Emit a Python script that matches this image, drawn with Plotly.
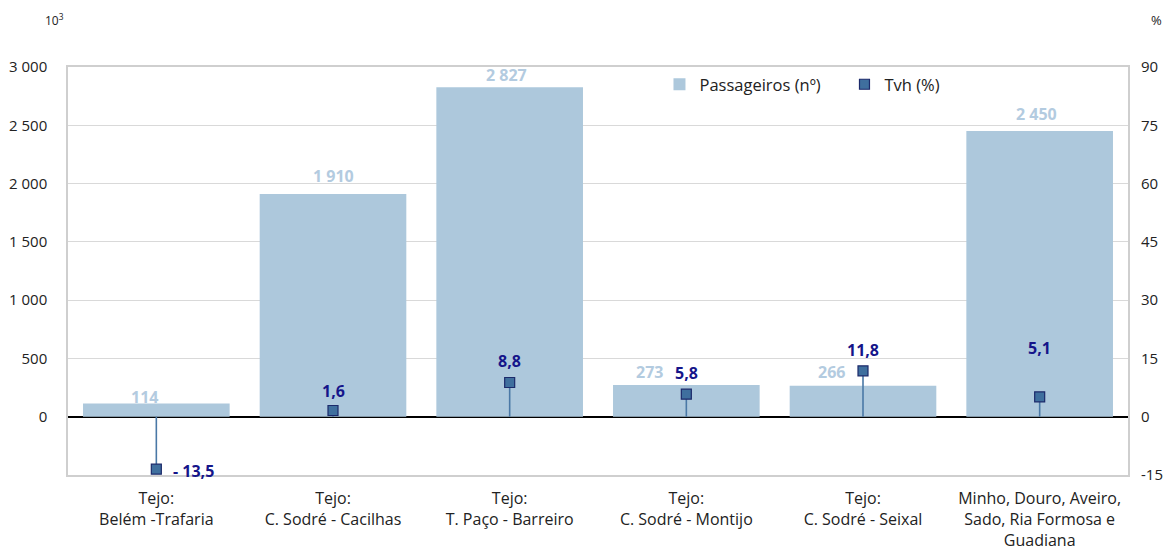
import plotly.graph_objects as go

categories = ["Tejo:<br>Belém -Trafaria", "Tejo:<br>C. Sodré - Cacilhas", "Tejo:<br>T. Paço - Barreiro",
              "Tejo:<br>C. Sodré - Montijo", "Tejo:<br>C. Sodré - Seixal",
              "Minho, Douro, Aveiro,<br>Sado, Ria Formosa e<br>Guadiana"]
passageiros = [114, 1910, 2827, 273, 266, 2450]
tvh = [-13.5, 1.6, 8.8, 5.8, 11.8, 5.1]
left_ticks = [0, 500, 1000, 1500, 2000, 2500, 3000]
right_ticks = [-15, 0, 15, 30, 45, 60, 75, 90]

BAR = "#adc8dc"
BARTXT = "#b3cbe0"
NAVY = "#15158a"
FONT = "Open Sans, sans-serif"


def fmt_int(v):
    return f"{v:,}".replace(",", " ")


def fmt_pct(v):
    s = f"{abs(v):.1f}".replace(".", ",")
    return ("- " + s) if v < 0 else s


fig = go.Figure()
fig.add_trace(go.Bar(x=categories, y=passageiros, name="Passageiros (nº)",
                     marker=dict(color=BAR, line=dict(width=0)), yaxis="y"))
fig.add_trace(go.Scatter(
    x=categories, y=tvh, name="Tvh (%)", mode="markers", yaxis="y2",
    marker=dict(symbol="square", size=10, color="#3f6f9e", line=dict(color="#1c2a6b", width=1.2)),
    error_y=dict(type="data", symmetric=False,
                 array=[(-v if v < 0 else 0) for v in tvh],
                 arrayminus=[(v if v > 0 else 0) for v in tvh],
                 width=0, thickness=1.6, color="#4a78a6"),
))

annotations = []
# bar value labels (label offsets in px: x shift, gap above bar top)
bar_xshift = [-12, 0, -3, -37, -32, -3]
bar_gap = [6, 18, 12, 13, 14, 17]
for c, v, sx, g in zip(categories, passageiros, bar_xshift, bar_gap):
    annotations.append(dict(x=c, y=v, xref="x", yref="y", text=f"<b>{fmt_int(v)}</b>",
                            showarrow=False, yanchor="middle", xshift=sx, yshift=g,
                            font=dict(family=FONT, size=16, color=BARTXT)))
# tvh labels
tvh_gap = [0, 20, 22, 21, 21, 49]
for i, (c, v) in enumerate(zip(categories, tvh)):
    if v < 0:
        annotations.append(dict(x=c, y=v, xref="x", yref="y2", text=f"<b>{fmt_pct(v)}</b>",
                                showarrow=False, xanchor="left", yanchor="middle", xshift=15, yshift=-2,
                                font=dict(family=FONT, size=16, color=NAVY)))
    else:
        annotations.append(dict(x=c, y=v, xref="x", yref="y2", text=f"<b>{fmt_pct(v)}</b>",
                                showarrow=False, yanchor="middle", yshift=tvh_gap[i],
                                font=dict(family=FONT, size=16, color=NAVY)))
annotations.append(dict(x=-0.002, y=1.115, xref="paper", yref="paper", text="10<sup>3</sup>",
                        showarrow=False, xanchor="right", yanchor="middle",
                        font=dict(family=FONT, size=12, color="#222")))
annotations.append(dict(x=1.02, y=1.115, xref="paper", yref="paper", text="%", showarrow=False,
                        xanchor="left", yanchor="middle", font=dict(family=FONT, size=13, color="#222")))

fig.update_layout(
    width=1168, height=551,
    margin=dict(l=68, r=40, t=67, b=76),
    paper_bgcolor="white", plot_bgcolor="white",
    font=dict(family=FONT, size=15, color="#222"),
    bargap=0.17,
    showlegend=True,
    legend=dict(orientation="h", x=0.558, y=1.0, xanchor="left", yanchor="top",
                font=dict(family=FONT, size=16.5, color="#222"), bgcolor="rgba(0,0,0,0)",
                itemwidth=30, tracegroupgap=0, entrywidth=140),
    xaxis=dict(showline=True, mirror=True, linecolor="#cfcfcf", linewidth=1.5, showgrid=False,
               automargin=False,
               ticks="", ticklabelstandoff=8, tickfont=dict(family=FONT, size=16, color="#222")),
    yaxis=dict(range=[-500, 3000], tickvals=left_ticks, ticktext=[fmt_int(t) for t in left_ticks],
               showgrid=True, gridcolor="#d9d9d9", gridwidth=1, automargin=False,
               zeroline=True, zerolinecolor="#000", zerolinewidth=1.5,
               showline=True, mirror=True, linecolor="#cfcfcf", linewidth=1.5,
               ticks="", ticklabelstandoff=16, tickfont=dict(family=FONT, size=15, color="#222")),
    yaxis2=dict(range=[-15, 90], tickvals=right_ticks, ticktext=[str(t) for t in right_ticks],
                overlaying="y", side="right",
                showgrid=False, zeroline=False, showline=False, ticks="", ticklabelstandoff=12,
                automargin=False,
                tickfont=dict(family=FONT, size=15, color="#222")),
    annotations=annotations,
)

fig.write_html("out.html", config={"displayModeBar": False},
               post_script="document.body.style.margin='0';")
